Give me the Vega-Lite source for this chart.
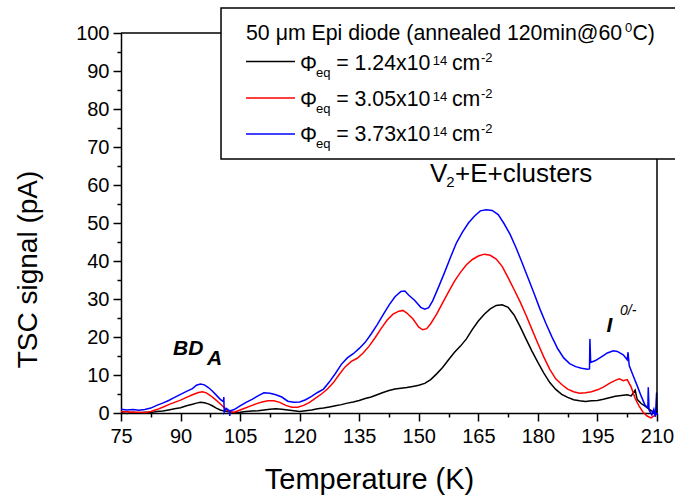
{
  "$schema": "https://vega.github.io/schema/vega-lite/v6.json",
  "width": 536,
  "height": 380,
  "autosize": "none",
  "padding": {"left": 121, "top": 33, "right": 18, "bottom": 87},
  "background": "white",
  "config": {
    "view": {"stroke": null},
    "axis": {"domainColor": "black", "tickColor": "black", "labelColor": "black", "titleColor": "black", "labelFont": "Liberation Sans", "titleFont": "Liberation Sans", "domainWidth": 1.5, "tickWidth": 1.5, "grid": false, "titleFontWeight": "normal"}
  },
  "datasets": {
    "tsc": [
      {"s":"1.24","T":75,"I":0.1},{"s":"1.24","T":76.5,"I":-0.1},{"s":"1.24","T":78,"I":0.2},{"s":"1.24","T":79.5,"I":0.0},{"s":"1.24","T":81,"I":0.2},{"s":"1.24","T":82.5,"I":0.1},{"s":"1.24","T":84,"I":0.4},{"s":"1.24","T":85.5,"I":0.5},{"s":"1.24","T":87,"I":0.8},{"s":"1.24","T":88.5,"I":1.1},{"s":"1.24","T":90,"I":1.4},{"s":"1.24","T":91.5,"I":1.9},{"s":"1.24","T":93,"I":2.3},{"s":"1.24","T":94,"I":2.6},{"s":"1.24","T":95,"I":2.8},{"s":"1.24","T":96,"I":2.7},{"s":"1.24","T":97,"I":2.4},{"s":"1.24","T":98,"I":1.9},{"s":"1.24","T":99,"I":1.3},{"s":"1.24","T":100,"I":0.8},{"s":"1.24","T":101,"I":0.5},{"s":"1.24","T":102,"I":0.3},{"s":"1.24","T":103.5,"I":0.1},{"s":"1.24","T":105,"I":0.2},{"s":"1.24","T":106.5,"I":0.4},{"s":"1.24","T":108,"I":0.5},{"s":"1.24","T":109.5,"I":0.6},{"s":"1.24","T":111,"I":0.8},{"s":"1.24","T":112.5,"I":1.0},{"s":"1.24","T":114,"I":1.1},{"s":"1.24","T":115.5,"I":1.0},{"s":"1.24","T":117,"I":0.8},{"s":"1.24","T":118.5,"I":0.6},{"s":"1.24","T":120,"I":0.4},{"s":"1.24","T":121.5,"I":0.6},{"s":"1.24","T":123,"I":0.8},{"s":"1.24","T":124.5,"I":1.1},{"s":"1.24","T":126,"I":1.3},{"s":"1.24","T":127.5,"I":1.6},{"s":"1.24","T":129,"I":1.9},{"s":"1.24","T":130.5,"I":2.2},{"s":"1.24","T":132,"I":2.6},{"s":"1.24","T":133.5,"I":2.9},{"s":"1.24","T":135,"I":3.3},{"s":"1.24","T":136.5,"I":3.8},{"s":"1.24","T":138,"I":4.2},{"s":"1.24","T":139.5,"I":4.8},{"s":"1.24","T":141,"I":5.4},{"s":"1.24","T":142.5,"I":5.9},{"s":"1.24","T":144,"I":6.3},{"s":"1.24","T":145.5,"I":6.5},{"s":"1.24","T":147,"I":6.7},{"s":"1.24","T":148.5,"I":7.0},{"s":"1.24","T":150,"I":7.3},{"s":"1.24","T":151.5,"I":7.8},{"s":"1.24","T":153,"I":8.8},{"s":"1.24","T":154.5,"I":10.3},{"s":"1.24","T":156,"I":12.0},{"s":"1.24","T":157.5,"I":14.0},{"s":"1.24","T":159,"I":16.0},{"s":"1.24","T":160.5,"I":17.6},{"s":"1.24","T":162,"I":19.5},{"s":"1.24","T":163.5,"I":22.0},{"s":"1.24","T":165,"I":24.2},{"s":"1.24","T":166.5,"I":26.0},{"s":"1.24","T":168,"I":27.4},{"s":"1.24","T":169.5,"I":28.3},{"s":"1.24","T":171,"I":28.5},{"s":"1.24","T":172.5,"I":27.8},{"s":"1.24","T":174,"I":25.8},{"s":"1.24","T":175.5,"I":22.8},{"s":"1.24","T":177,"I":19.5},{"s":"1.24","T":178.5,"I":16.3},{"s":"1.24","T":180,"I":13.3},{"s":"1.24","T":181.5,"I":10.5},{"s":"1.24","T":183,"I":8.0},{"s":"1.24","T":184.5,"I":6.2},{"s":"1.24","T":186,"I":4.9},{"s":"1.24","T":187.5,"I":4.1},{"s":"1.24","T":189,"I":3.5},{"s":"1.24","T":190.5,"I":3.2},{"s":"1.24","T":192,"I":3.0},{"s":"1.24","T":193.5,"I":3.2},{"s":"1.24","T":195,"I":3.3},{"s":"1.24","T":196.5,"I":3.6},{"s":"1.24","T":198,"I":4.0},{"s":"1.24","T":199.5,"I":4.4},{"s":"1.24","T":201,"I":4.6},{"s":"1.24","T":202.5,"I":4.8},{"s":"1.24","T":203.5,"I":4.5},{"s":"1.24","T":204.5,"I":6.0},{"s":"1.24","T":205,"I":3.6},{"s":"1.24","T":206,"I":2.5},{"s":"1.24","T":207,"I":1.8},{"s":"1.24","T":208,"I":1.0},{"s":"1.24","T":209,"I":0.3},{"s":"1.24","T":210,"I":-0.3},
      {"s":"3.05","T":75,"I":0.4},{"s":"3.05","T":76.5,"I":0.3},{"s":"3.05","T":78,"I":0.2},{"s":"3.05","T":79.5,"I":0.2},{"s":"3.05","T":81,"I":0.1},{"s":"3.05","T":82.5,"I":0.4},{"s":"3.05","T":84,"I":0.9},{"s":"3.05","T":85.5,"I":1.5},{"s":"3.05","T":87,"I":2.2},{"s":"3.05","T":88.5,"I":2.8},{"s":"3.05","T":90,"I":3.4},{"s":"3.05","T":91.5,"I":4.1},{"s":"3.05","T":93,"I":4.8},{"s":"3.05","T":94.5,"I":5.4},{"s":"3.05","T":95.5,"I":5.6},{"s":"3.05","T":96.5,"I":5.3},{"s":"3.05","T":97.5,"I":4.6},{"s":"3.05","T":98.5,"I":3.8},{"s":"3.05","T":99.5,"I":2.9},{"s":"3.05","T":100.5,"I":1.9},{"s":"3.05","T":101.5,"I":0.9},{"s":"3.05","T":102.5,"I":0.3},{"s":"3.05","T":103.5,"I":0.2},{"s":"3.05","T":104.5,"I":0.6},{"s":"3.05","T":106,"I":1.2},{"s":"3.05","T":107.5,"I":1.8},{"s":"3.05","T":109,"I":2.4},{"s":"3.05","T":110.5,"I":2.9},{"s":"3.05","T":112,"I":3.2},{"s":"3.05","T":113.5,"I":3.2},{"s":"3.05","T":115,"I":2.8},{"s":"3.05","T":116.5,"I":2.0},{"s":"3.05","T":118,"I":1.5},{"s":"3.05","T":119.5,"I":1.5},{"s":"3.05","T":121,"I":2.0},{"s":"3.05","T":122.5,"I":2.8},{"s":"3.05","T":124,"I":3.9},{"s":"3.05","T":125.5,"I":5.0},{"s":"3.05","T":127,"I":6.3},{"s":"3.05","T":128.5,"I":8.0},{"s":"3.05","T":130,"I":10.2},{"s":"3.05","T":131.5,"I":12.2},{"s":"3.05","T":133,"I":13.6},{"s":"3.05","T":134.5,"I":14.4},{"s":"3.05","T":136,"I":15.8},{"s":"3.05","T":137.5,"I":17.6},{"s":"3.05","T":139,"I":19.8},{"s":"3.05","T":140.5,"I":22.2},{"s":"3.05","T":142,"I":24.4},{"s":"3.05","T":143.5,"I":26.0},{"s":"3.05","T":145,"I":26.8},{"s":"3.05","T":146,"I":27.0},{"s":"3.05","T":147,"I":26.3},{"s":"3.05","T":148.5,"I":24.8},{"s":"3.05","T":150,"I":22.6},{"s":"3.05","T":151,"I":21.9},{"s":"3.05","T":152,"I":22.2},{"s":"3.05","T":153,"I":23.5},{"s":"3.05","T":154.5,"I":26.0},{"s":"3.05","T":156,"I":29.0},{"s":"3.05","T":157.5,"I":31.9},{"s":"3.05","T":159,"I":34.7},{"s":"3.05","T":160.5,"I":37.0},{"s":"3.05","T":162,"I":39.0},{"s":"3.05","T":163.5,"I":40.4},{"s":"3.05","T":165,"I":41.3},{"s":"3.05","T":166.5,"I":41.8},{"s":"3.05","T":168,"I":41.5},{"s":"3.05","T":169.5,"I":40.5},{"s":"3.05","T":171,"I":38.6},{"s":"3.05","T":172.5,"I":35.6},{"s":"3.05","T":174,"I":32.5},{"s":"3.05","T":175.5,"I":29.3},{"s":"3.05","T":177,"I":25.8},{"s":"3.05","T":178.5,"I":22.0},{"s":"3.05","T":180,"I":18.3},{"s":"3.05","T":181.5,"I":14.7},{"s":"3.05","T":183,"I":11.5},{"s":"3.05","T":184.5,"I":9.0},{"s":"3.05","T":186,"I":7.5},{"s":"3.05","T":187.5,"I":6.3},{"s":"3.05","T":189,"I":5.6},{"s":"3.05","T":190.5,"I":5.2},{"s":"3.05","T":192,"I":5.3},{"s":"3.05","T":193.5,"I":5.6},{"s":"3.05","T":195,"I":6.1},{"s":"3.05","T":196.5,"I":6.8},{"s":"3.05","T":198,"I":7.8},{"s":"3.05","T":199.5,"I":8.6},{"s":"3.05","T":200.5,"I":9.0},{"s":"3.05","T":201.5,"I":8.5},{"s":"3.05","T":202.5,"I":8.8},{"s":"3.05","T":203.5,"I":6.8},{"s":"3.05","T":204.5,"I":3.8},{"s":"3.05","T":205.5,"I":1.8},{"s":"3.05","T":206.5,"I":0.2},{"s":"3.05","T":207.5,"I":-0.8},{"s":"3.05","T":208.5,"I":-1.3},{"s":"3.05","T":209.5,"I":-0.6},{"s":"3.05","T":210,"I":0.3},
      {"s":"3.73","T":75,"I":1.0},{"s":"3.73","T":76.5,"I":0.8},{"s":"3.73","T":78,"I":0.9},{"s":"3.73","T":79.5,"I":0.7},{"s":"3.73","T":81,"I":0.9},{"s":"3.73","T":82.5,"I":1.3},{"s":"3.73","T":84,"I":2.0},{"s":"3.73","T":85.5,"I":2.6},{"s":"3.73","T":87,"I":3.3},{"s":"3.73","T":88.5,"I":4.1},{"s":"3.73","T":90,"I":4.9},{"s":"3.73","T":91.5,"I":5.7},{"s":"3.73","T":93,"I":6.4},{"s":"3.73","T":94,"I":7.3},{"s":"3.73","T":95,"I":7.6},{"s":"3.73","T":96,"I":7.4},{"s":"3.73","T":97,"I":6.7},{"s":"3.73","T":98,"I":5.8},{"s":"3.73","T":99,"I":4.7},{"s":"3.73","T":100,"I":3.6},{"s":"3.73","T":100.8,"I":3.0},{"s":"3.73","T":100.9,"I":4.2},{"s":"3.73","T":101.0,"I":0.2},{"s":"3.73","T":101.5,"I":1.2},{"s":"3.73","T":102.3,"I":0.6},{"s":"3.73","T":102.4,"I":-0.8},{"s":"3.73","T":102.5,"I":0.6},{"s":"3.73","T":103.5,"I":0.9},{"s":"3.73","T":105,"I":1.9},{"s":"3.73","T":106.5,"I":2.8},{"s":"3.73","T":108,"I":3.6},{"s":"3.73","T":109.5,"I":4.5},{"s":"3.73","T":111,"I":5.3},{"s":"3.73","T":112.5,"I":5.2},{"s":"3.73","T":114,"I":4.8},{"s":"3.73","T":115.5,"I":4.2},{"s":"3.73","T":117,"I":3.1},{"s":"3.73","T":118.5,"I":2.8},{"s":"3.73","T":120,"I":2.9},{"s":"3.73","T":121.5,"I":3.5},{"s":"3.73","T":123,"I":4.4},{"s":"3.73","T":124.5,"I":5.4},{"s":"3.73","T":126,"I":6.3},{"s":"3.73","T":127.5,"I":8.2},{"s":"3.73","T":129,"I":10.4},{"s":"3.73","T":130.5,"I":12.8},{"s":"3.73","T":132,"I":14.5},{"s":"3.73","T":133.5,"I":15.6},{"s":"3.73","T":135,"I":17.0},{"s":"3.73","T":136.5,"I":18.6},{"s":"3.73","T":138,"I":20.8},{"s":"3.73","T":139.5,"I":23.2},{"s":"3.73","T":141,"I":25.8},{"s":"3.73","T":142.5,"I":28.4},{"s":"3.73","T":144,"I":30.6},{"s":"3.73","T":145.5,"I":32.0},{"s":"3.73","T":146.5,"I":32.1},{"s":"3.73","T":147.5,"I":31.0},{"s":"3.73","T":149,"I":29.6},{"s":"3.73","T":150.5,"I":27.8},{"s":"3.73","T":151.5,"I":27.3},{"s":"3.73","T":152.5,"I":27.7},{"s":"3.73","T":153.5,"I":29.5},{"s":"3.73","T":155,"I":33.2},{"s":"3.73","T":156.5,"I":37.0},{"s":"3.73","T":158,"I":41.0},{"s":"3.73","T":159.5,"I":44.8},{"s":"3.73","T":161,"I":47.6},{"s":"3.73","T":162.5,"I":50.0},{"s":"3.73","T":164,"I":51.8},{"s":"3.73","T":165.5,"I":53.2},{"s":"3.73","T":167,"I":53.5},{"s":"3.73","T":168.5,"I":53.3},{"s":"3.73","T":170,"I":52.2},{"s":"3.73","T":171.5,"I":49.8},{"s":"3.73","T":173,"I":47.0},{"s":"3.73","T":174.5,"I":43.5},{"s":"3.73","T":176,"I":39.6},{"s":"3.73","T":177.5,"I":35.6},{"s":"3.73","T":179,"I":31.6},{"s":"3.73","T":180.5,"I":27.4},{"s":"3.73","T":182,"I":23.6},{"s":"3.73","T":183.5,"I":20.1},{"s":"3.73","T":185,"I":16.9},{"s":"3.73","T":186.5,"I":14.5},{"s":"3.73","T":188,"I":13.0},{"s":"3.73","T":189.5,"I":12.2},{"s":"3.73","T":191,"I":11.8},{"s":"3.73","T":192.5,"I":11.5},{"s":"3.73","T":193.0,"I":11.6},{"s":"3.73","T":193.1,"I":19.5},{"s":"3.73","T":193.3,"I":13.3},{"s":"3.73","T":194.5,"I":13.8},{"s":"3.73","T":196,"I":14.8},{"s":"3.73","T":197.5,"I":15.8},{"s":"3.73","T":199,"I":16.4},{"s":"3.73","T":200,"I":16.2},{"s":"3.73","T":201.5,"I":15.3},{"s":"3.73","T":202.5,"I":14.0},{"s":"3.73","T":202.7,"I":16.0},{"s":"3.73","T":203,"I":12.5},{"s":"3.73","T":204,"I":9.8},{"s":"3.73","T":205,"I":7.2},{"s":"3.73","T":206,"I":4.5},{"s":"3.73","T":207,"I":2.0},{"s":"3.73","T":207.7,"I":1.5},{"s":"3.73","T":207.8,"I":6.8},{"s":"3.73","T":208,"I":0.8},{"s":"3.73","T":208.7,"I":-0.5},{"s":"3.73","T":209.2,"I":1.0},{"s":"3.73","T":209.6,"I":-1.0},{"s":"3.73","T":209.9,"I":5.4},{"s":"3.73","T":210,"I":-0.5}
    ]
  },
  "encoding": {
    "x": {"field": "T", "type": "quantitative",
      "scale": {"domain": [75, 210], "nice": false, "zero": false},
      "axis": {"title": "Temperature (K)", "values": [75,82.5,90,97.5,105,112.5,120,127.5,135,142.5,150,157.5,165,172.5,180,187.5,195,202.5,210],
        "labelExpr": "datum.value % 15 === 0 ? datum.label : ''",
        "tickSize": {"condition": {"test": "datum.value % 15 === 0", "value": 8}, "value": 4},
        "labelFontSize": 20, "labelPadding": 5, "labelFlush": false, "labelOverlap": false,
        "titleFontSize": 29, "titleX": 248, "titleY": 75, "titleAlign": "center", "titleBaseline": "alphabetic"}},
    "y": {"field": "I", "type": "quantitative",
      "scale": {"domain": [0, 100], "nice": false, "zero": false},
      "axis": {"title": "TSC signal (pA)", "values": [0,5,10,15,20,25,30,35,40,45,50,55,60,65,70,75,80,85,90,95,100],
        "labelExpr": "datum.value % 10 === 0 ? datum.label : ''",
        "tickSize": {"condition": {"test": "datum.value % 10 === 0", "value": 8}, "value": 4},
        "labelFontSize": 20, "labelPadding": 4, "labelFlush": false, "labelOverlap": false,
        "titleFontSize": 28, "titleX": -85, "titleY": 236, "titleAlign": "center", "titleBaseline": "alphabetic", "titleAngle": 270}}
  },
  "layer": [
    {
      "data": {"name": "tsc"},
      "mark": {"type": "line", "strokeWidth": 1.5, "interpolate": "linear"},
      "encoding": {
        "color": {"field": "s", "type": "nominal", "scale": {"domain": ["1.24","3.05","3.73"], "range": ["#000000","#ff0000","#0000ff"]}, "legend": null},
        "detail": {"field": "s"}
      }
    },
    {
      "data": {"values": [{"T": 75, "T2": 210, "I": 100}]},
      "mark": {"type": "rule", "color": "black", "strokeWidth": 1.5},
      "encoding": {"x2": {"field": "T2"}}
    },
    {
      "data": {"values": [{"T": 210, "I": 0, "I2": 100}]},
      "mark": {"type": "rule", "color": "black", "strokeWidth": 1.5},
      "encoding": {"y2": {"field": "I2"}}
    },
    {
      "data": {"values": [{"T": 100.19, "T2": 215, "I": 66.84, "I2": 106.58}]},
      "mark": {"type": "rect", "fill": "white", "stroke": "black", "strokeWidth": 1.5},
      "encoding": {"x2": {"field": "T2"}, "y2": {"field": "I2"}}
    },
    {
      "data": {"values": [
        {"s": "1.24", "T": 106.49, "T2": 118.83, "I": 92.5},
        {"s": "3.05", "T": 106.49, "T2": 118.83, "I": 82.9},
        {"s": "3.73", "T": 106.49, "T2": 118.83, "I": 73.4}
      ]},
      "mark": {"type": "rule", "strokeWidth": 1.5},
      "encoding": {
        "x2": {"field": "T2"},
        "color": {"field": "s", "type": "nominal", "legend": null}
      }
    },
    {
      "data": {"values": [
        {"txt": "50 μm Epi diode (annealed 120min@60", "T": 106.49, "I": 98.16},
        {"txt": "C)", "T": 203.8, "I": 98.16},
        {"txt": "Φ", "T": 120.09, "I": 89.95},
        {"txt": "= 1.24x10", "T": 129.2, "I": 90.26},
        {"txt": "cm", "T": 158.35, "I": 90.26},
        {"txt": "Φ", "T": 120.09, "I": 80.5},
        {"txt": "= 3.05x10", "T": 129.2, "I": 80.79},
        {"txt": "cm", "T": 158.35, "I": 80.79},
        {"txt": "Φ", "T": 120.09, "I": 71.3},
        {"txt": "= 3.73x10", "T": 129.2, "I": 71.58},
        {"txt": "cm", "T": 158.35, "I": 71.58}
      ]},
      "mark": {"type": "text", "align": "left", "baseline": "alphabetic", "font": "Liberation Sans", "fontSize": 21.3, "color": "black"},
      "encoding": {"text": {"field": "txt"}}
    },
    {
      "data": {"values": [
        {"txt": "0", "T": 201.95, "I": 100.3},
        {"txt": "eq", "T": 124.12, "I": 88.42},
        {"txt": "14", "T": 153.5, "I": 91.58},
        {"txt": "-2", "T": 165.65, "I": 92.37},
        {"txt": "eq", "T": 124.12, "I": 78.95},
        {"txt": "14", "T": 153.5, "I": 82.1},
        {"txt": "-2", "T": 165.65, "I": 82.9},
        {"txt": "eq", "T": 124.12, "I": 69.74},
        {"txt": "14", "T": 153.5, "I": 72.9},
        {"txt": "-2", "T": 165.65, "I": 73.7}
      ]},
      "mark": {"type": "text", "align": "left", "baseline": "alphabetic", "font": "Liberation Sans", "fontSize": 13, "color": "black"},
      "encoding": {"text": {"field": "txt"}}
    },
    {
      "data": {"values": [
        {"txt": "V", "T": 152.8, "I": 60.87},
        {"txt": "+E+clusters", "T": 159.13, "I": 60.87}
      ]},
      "mark": {"type": "text", "align": "left", "baseline": "alphabetic", "font": "Liberation Sans", "fontSize": 26, "color": "black"},
      "encoding": {"text": {"field": "txt"}}
    },
    {
      "data": {"values": [{"txt": "2", "T": 156.9, "I": 59.55}]},
      "mark": {"type": "text", "align": "left", "baseline": "alphabetic", "font": "Liberation Sans", "fontSize": 15, "color": "black"},
      "encoding": {"text": {"field": "txt"}}
    },
    {
      "data": {"values": [
        {"txt": "BD", "T": 88.1, "I": 15.26},
        {"txt": "A", "T": 96.66, "I": 12.63},
        {"txt": "I", "T": 197.3, "I": 21.3}
      ]},
      "mark": {"type": "text", "align": "left", "baseline": "alphabetic", "font": "Liberation Sans", "fontSize": 21, "fontWeight": "bold", "fontStyle": "italic", "color": "black"},
      "encoding": {"text": {"field": "txt"}}
    },
    {
      "data": {"values": [{"txt": "0/-", "T": 200.7, "I": 25.8}]},
      "mark": {"type": "text", "align": "left", "baseline": "alphabetic", "font": "Liberation Sans", "fontSize": 14, "fontStyle": "italic", "color": "black"},
      "encoding": {"text": {"field": "txt"}}
    }
  ]
}
